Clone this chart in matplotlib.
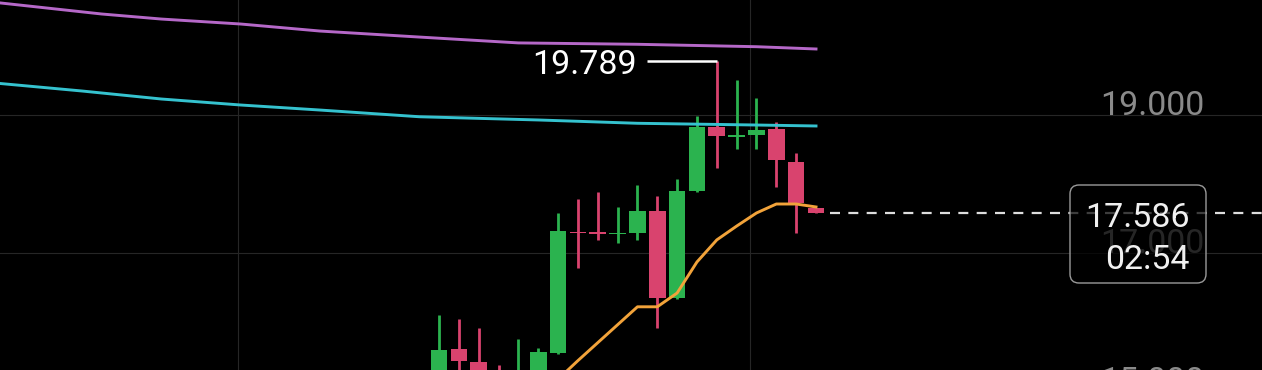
import numpy as np
import matplotlib
matplotlib.use("Agg")
import matplotlib.pyplot as plt
from matplotlib.patches import FancyBboxPatch

plt.rcParams['font.family'] = ['Roboto', 'DejaVu Sans']
plt.rcParams['lines.scale_dashes'] = False

# candles (index 0 = first candle visible on the chart)
opens  = [15.09, 15.61, 15.42, 15.28, 15.01, 15.09, 15.55, 17.30, 17.31, 17.275,
          17.29, 17.61, 16.35, 17.90, 18.83, 18.688, 18.71, 18.80, 18.32, 17.65]
highs  = [16.10, 16.04, 15.91, 15.38, 15.75, 15.62, 17.58, 17.78, 17.88, 17.67,
          17.99, 17.83, 18.07, 18.99, 19.789, 19.51, 19.25, 18.90, 18.45, 17.65]
lows   = [14.94, 15.19, 15.09, 15.05, 14.95, 15.00, 15.54, 16.78, 17.19, 17.145,
          17.19, 15.91, 16.34, 17.89, 18.23, 18.51, 18.51, 17.96, 17.29, 17.58]
closes = [15.59, 15.43, 15.22, 15.16, 15.25, 15.56, 17.32, 17.29, 17.27, 17.29,
          17.61, 16.35, 17.90, 18.83, 18.70, 18.703, 18.78, 18.35, 17.73, 17.586]

# short moving average (orange)
ma_idx  = [5, 6, 7, 8, 9, 10, 11, 12, 13, 14, 15, 16, 17, 18, 19]
ma_vals = [14.91, 15.17, 15.44, 15.70, 15.96, 16.22, 16.22, 16.42, 16.87, 17.19,
           17.39, 17.58, 17.71, 17.71, 17.667]

# long averages (purple, cyan)
long_idx    = [-23, -17, -14, -10, -6, -1, 4, 10, 16, 19]
purple_vals = [20.652, 20.464, 20.391, 20.319, 20.217, 20.130, 20.045, 20.025, 19.990, 19.957]
cyan_idx    = [-23, -18, -14, -10, -6, -1, 5, 10, 16, 19]
cyan_vals   = [19.48, 19.348, 19.232, 19.145, 19.072, 18.975, 18.928, 18.880, 18.855, 18.841]

grid_levels = [15, 17, 19]
level_labels = ["15.000", "17.000", "19.000"]
vgrid_idx = [-10.13, 15.68]
countdown = "02:54"

green = '#2bb34f'
red = '#d9436e'

fig = plt.figure(figsize=(12.62, 3.70), dpi=100, facecolor='black')
ax = fig.add_axes([0, 0, 1, 1])
ax.set_facecolor('black')
ax.set_xlim(-22.13, 41.48)
ax.set_ylim(15.304, 20.667)
ax.axis('off')

for lv in grid_levels:
    ax.axhline(lv, color='#262626', lw=0.8, zorder=0)
for gx in vgrid_idx:
    ax.axvline(gx, color='#262626', lw=0.8, zorder=0)

# right-side level labels (17.000 sits behind the price box)
ytr = ax.get_yaxis_transform()
for lv, lab in zip(grid_levels, level_labels):
    ax.text(0.954, lv, lab, transform=ytr, ha='right', va='baseline',
            fontsize=24.5, color='#8a8a8a', zorder=1)

# candles
idx = np.arange(len(opens))
o = np.array(opens); c = np.array(closes)
cols = [green if cc >= oo else red for oo, cc in zip(o, c)]
ax.vlines(idx, lows, highs, colors=cols, lw=2.0, zorder=2)
heights = np.maximum(np.abs(c - o), 0.02)
ax.bar(idx, heights, bottom=np.minimum(o, c), width=0.84, color=cols, zorder=3)

# moving averages
ax.plot(long_idx, purple_vals, color='#b568c8', lw=2.1, zorder=4)
ax.plot(cyan_idx, cyan_vals, color='#35c2cf', lw=2.1, zorder=4)
ax.plot(ma_idx, ma_vals, color='#f2a33a', lw=2.1, zorder=5)

# max high marker
hi_i = int(np.argmax(highs))
hi = highs[hi_i]
ax.hlines(hi, hi_i - 3.53, hi_i, color='white', lw=1.8, zorder=5)
ax.annotate(f"{hi:.3f}", xy=(hi_i, hi), xytext=(-80, -13), textcoords='offset pixels',
            ha='right', va='baseline', fontsize=24.5, color='white', zorder=6)

# last price dashed line
last = closes[-1]
ax.hlines(last, len(closes) - 0.3, 41.5, color='#dddddd', lw=1.6,
          linestyles=(0, (7.2, 6.0)), zorder=5)

# price box
box = FancyBboxPatch((10.70, 0.87), 1.36, 0.98, boxstyle="round,pad=0,rounding_size=0.09",
                     transform=fig.dpi_scale_trans, facecolor='black', alpha=0.72,
                     edgecolor='none', zorder=7)
ax.add_patch(box)
box_edge = FancyBboxPatch((10.70, 0.87), 1.36, 0.98, boxstyle="round,pad=0,rounding_size=0.09",
                          transform=fig.dpi_scale_trans, facecolor='none',
                          edgecolor='#9a9a9a', lw=1.0, zorder=8)
ax.add_patch(box_edge)
fig.text(11.90 / 12.62, 1.43 / 3.70, f"{last:.3f}", ha='right', va='baseline',
         fontsize=24.5, color='#f0f0f0', zorder=9)
fig.text(11.90 / 12.62, 1.01 / 3.70, countdown, ha='right', va='baseline',
         fontsize=24.5, color='#f0f0f0', zorder=9)

fig.savefig('out.png', dpi=100, facecolor='black')
